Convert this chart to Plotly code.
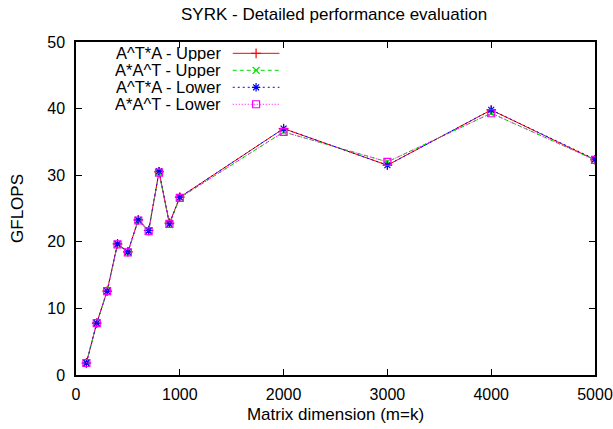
import plotly.graph_objects as go

# Matrix sizes (m = k) and measured throughput in GFLOPS
sizes = [100, 200, 300, 400, 500, 600, 700, 800, 900, 1000, 2000, 3000, 4000, 5000]
ata_upper = [1.8, 7.8, 12.6, 19.7, 18.5, 23.3, 21.7, 30.5, 22.8, 26.7, 37.0, 31.5, 39.8, 32.3]
aat_upper = [1.8, 7.8, 12.6, 19.6, 18.4, 23.2, 21.6, 30.4, 22.6, 26.6, 36.5, 32.0, 39.3, 32.3]
ata_lower = [1.8, 7.8, 12.6, 19.7, 18.5, 23.3, 21.7, 30.6, 22.7, 26.7, 37.0, 31.5, 39.8, 32.4]
aat_lower = [1.8, 7.8, 12.6, 19.6, 18.4, 23.2, 21.6, 30.4, 22.7, 26.6, 36.5, 32.0, 39.3, 32.3]

names = ["A^T*A - Upper", "A*A^T - Upper", "A^T*A - Lower", "A*A^T - Lower"]
series = [ata_upper, aat_upper, ata_lower, aat_lower]
colors = ["#ff0000", "#00dd00", "#0000ff", "#ff00ff"]
dashes = ["solid", "4px,3px", "2px,3px", "1px,2px"]
symbols = ["cross-thin-open", "x-thin-open", "asterisk-open", "square-open"]

FONT = "Liberation Sans, Arial, Helvetica, sans-serif"

fig = go.Figure()

for name, ys, c, d, s in zip(names, series, colors, dashes, symbols):
    fig.add_trace(go.Scatter(
        x=sizes, y=ys, name=name, mode="lines+markers",
        line=dict(color=c, width=1, dash=d),
        marker=dict(symbol=s, size=7, color=c, line=dict(color=c, width=1.2)),
        showlegend=False,
    ))

# Key drawn inside the plot: right-aligned label followed by a line sample
key_rows = [0.966, 0.915, 0.864, 0.813]
for name, c, d, s, ky in zip(names, colors, dashes, symbols, key_rows):
    fig.add_trace(go.Scatter(
        x=[0.302, 0.347, 0.392], y=[ky, ky, ky], xaxis="x2", yaxis="y2",
        mode="lines+markers", line=dict(color=c, width=1, dash=d),
        marker=dict(symbol=s, size=7, color=c, line=dict(color=c, width=1.2),
                    opacity=[0, 1, 0]),
        showlegend=False, hoverinfo="skip",
    ))
    fig.add_annotation(
        x=0.284, y=ky, xref="paper", yref="paper", text=name,
        showarrow=False, xanchor="right", yanchor="middle", height=16,
        font=dict(family=FONT, size=16.5, color="black"),
    )

axis_common = dict(
    showgrid=False, zeroline=False, showline=True, linecolor="black",
    linewidth=1.5, mirror="ticks", ticks="inside", ticklen=6, tickwidth=1,
    tickcolor="black", tickfont=dict(family=FONT, size=16, color="black"),
)

fig.update_layout(
    width=613, height=429,
    margin=dict(l=76, r=18, t=41.5, b=54, autoexpand=False),
    paper_bgcolor="white", plot_bgcolor="white",
    title=dict(text="SYRK - Detailed performance evaluation", x=0.545, y=0.967,
               xanchor="center", yanchor="middle",
               font=dict(family=FONT, size=17, color="black")),
    xaxis=dict(range=[0, 5000], tickvals=[0, 1000, 2000, 3000, 4000, 5000],
               title=dict(text="Matrix dimension (m=k)", standoff=6,
                          font=dict(family=FONT, size=17, color="black")),
               ticklabelstandoff=4, ticklabeloverflow="allow", **axis_common),
    yaxis=dict(range=[0, 50], tickvals=[0, 10, 20, 30, 40, 50],
               title=dict(text="GFLOPS", standoff=19,
                          font=dict(family=FONT, size=17, color="black")),
               ticklabelstandoff=6, **axis_common),
    xaxis2=dict(range=[0, 1], overlaying="x", visible=False, fixedrange=True),
    yaxis2=dict(range=[0, 1], overlaying="y", visible=False, fixedrange=True),
    showlegend=False,
)

fig.write_html("out.html")
